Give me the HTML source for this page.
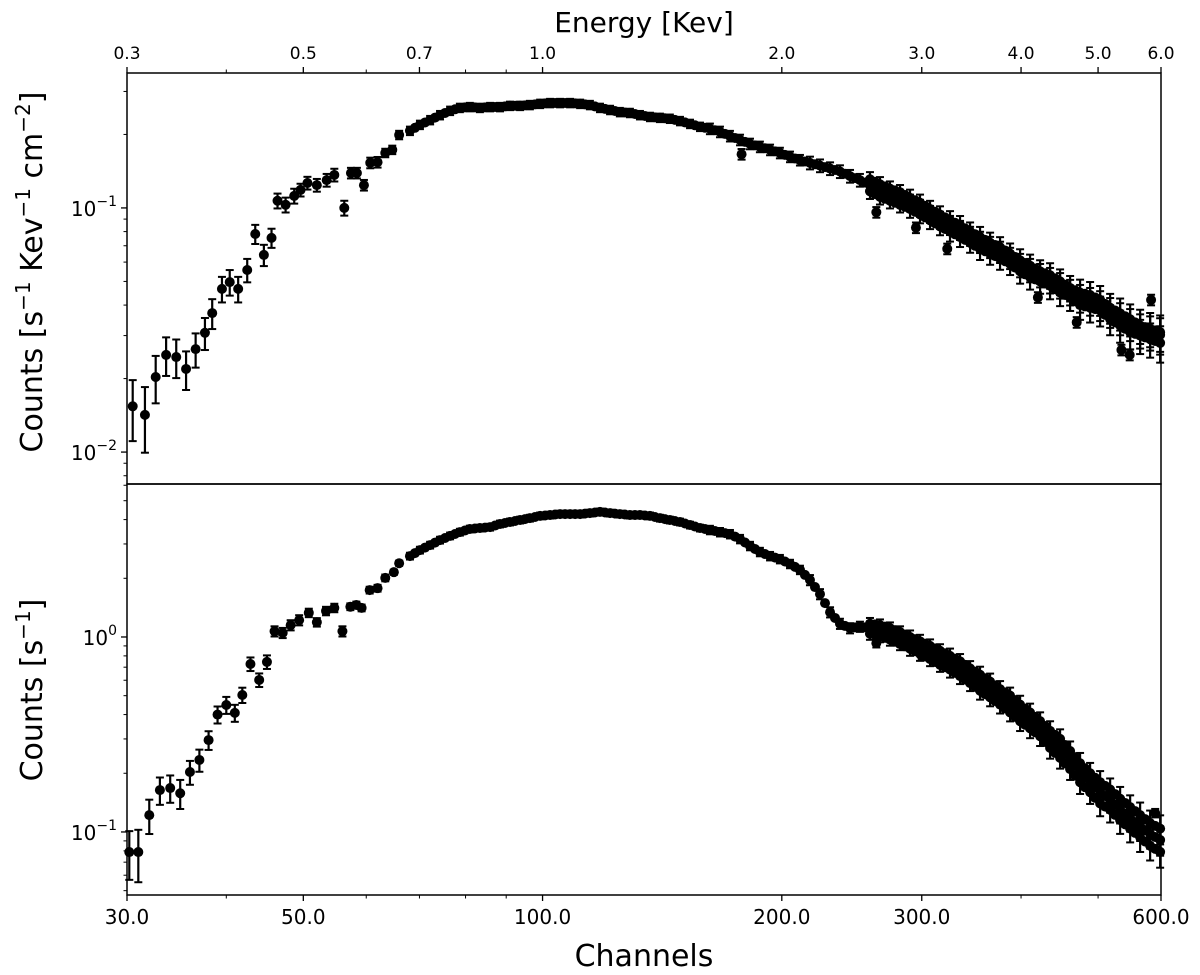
<!DOCTYPE html>
<html><head><meta charset="utf-8"><style>
body{margin:0;background:#fff;}
svg{display:block;font-family:"DejaVu Sans","Liberation Sans",sans-serif;}
</style></head><body>
<svg id="chart" width="1200" height="975" viewBox="0 0 1200 975" xmlns="http://www.w3.org/2000/svg"></svg>
<script>
// ---------- data ----------
const topSparseCh = [30.5,31.6,32.6,33.6,34.6,35.6,36.6,37.6,38.4,39.5,40.4,41.4,42.5,43.5,44.6,45.6,46.4,47.5,48.7,49.6,50.6,52.0,53.5,54.7,56.3,57.4,58.4,59.6,60.7,62.0,63.4,64.7,66.0];
const topSparseVal = [0.0154,0.0142,0.0203,0.025,0.0245,0.0219,0.0264,0.0308,0.0371,0.0466,0.0497,0.0466,0.0557,0.0782,0.0642,0.0754,0.107,0.103,0.112,0.1185,0.1265,0.124,0.130,0.1365,0.100,0.139,0.139,0.124,0.153,0.154,0.168,0.173,0.199];
const topSparseErr = [0.28,0.3,0.22,0.18,0.18,0.18,0.16,0.15,0.14,0.12,0.12,0.12,0.11,0.09,0.1,0.09,0.07,0.07,0.07,0.06,0.06,0.06,0.06,0.06,0.07,0.05,0.05,0.05,0.05,0.05,0.04,0.04,0.04];
const denseCh = [68.1,70.1,72.2,74.3,76.5,78.7,81.0,83.4,85.9,88.4,91.0,93.7,96.4,99.3,102.2,105.2,108.3,111.5,114.7,118.1,121.6,125.1,128.8,132.6,136.5,140.5,144.6,148.9,153.3,157.8,162.4,167.2,172.1,177.2,182.4,187.7,193.3,198.9,204.8,210.8,217.0,223.4,230.0,236.7,243.7,250.8,258.2,265.8,273.6,281.7,290.0,298.5,307.3,316.3,325.6,335.2,345.1,355.2,365.7,376.4,387.5,398.9,410.6,422.7,435.1,447.9,461.1,474.6,488.6,503.0,517.8,533.0,548.7,564.8,581.4,598.5];
const topDenseVal = [0.207,0.219,0.229,0.240,0.250,0.257,0.259,0.257,0.259,0.259,0.262,0.262,0.264,0.267,0.269,0.269,0.269,0.267,0.264,0.257,0.252,0.247,0.245,0.240,0.236,0.234,0.232,0.227,0.221,0.215,0.211,0.205,0.197,0.190,0.183,0.178,0.173,0.168,0.162,0.157,0.153,0.149,0.145,0.141,0.135,0.130,0.124,0.1185,0.114,0.110,0.105,0.100,0.0944,0.0893,0.0851,0.0812,0.0768,0.0726,0.0692,0.0661,0.0624,0.0584,0.0557,0.0531,0.0507,0.0483,0.0453,0.0428,0.0416,0.040,0.0375,0.0354,0.0335,0.0316,0.0310,0.0302];
const denseErr = [0.04,0.04,0.04,0.04,0.04,0.04,0.04,0.04,0.04,0.04,0.04,0.04,0.04,0.04,0.04,0.04,0.04,0.04,0.04,0.04,0.04,0.04,0.04,0.04,0.04,0.04,0.04,0.04,0.04,0.04,0.05,0.05,0.05,0.05,0.05,0.05,0.05,0.05,0.05,0.05,0.06,0.06,0.06,0.06,0.06,0.06,0.07,0.07,0.07,0.07,0.08,0.08,0.08,0.08,0.09,0.09,0.09,0.1,0.1,0.1,0.1,0.11,0.11,0.11,0.12,0.12,0.12,0.13,0.13,0.14,0.14,0.15,0.15,0.16,0.16,0.17];
// band spread (channels 258..598 = denseCh from index 46)
const topBandLow = [0.117,0.111,0.107,0.103,0.099,0.094,0.089,0.084,0.080,0.076,0.072,0.068,0.065,0.062,0.059,0.055,0.052,0.050,0.048,0.045,0.043,0.040,0.039,0.038,0.035,0.033,0.031,0.030,0.029,0.028];
const topBandHigh = [0.131,0.125,0.120,0.116,0.110,0.105,0.099,0.094,0.089,0.085,0.080,0.076,0.072,0.069,0.065,0.061,0.058,0.055,0.053,0.050,0.047,0.045,0.044,0.042,0.039,0.037,0.035,0.033,0.032,0.031];
const topScatterCh = [178,263,295,323,535,548,583,470,420];
const topScatterVal = [0.166,0.096,0.083,0.068,0.0262,0.025,0.042,0.034,0.043];
const botSparseCh = [30.2,31.0,32.0,33.0,34.0,35.0,36.0,37.0,38.0,39.0,40.0,41.0,41.9,42.9,44.0,45.0,46.0,47.1,48.2,49.4,50.8,52.0,53.4,54.7,56.0,57.3,58.3,59.2,60.6,62.0,63.4,65.0,66.0];
const botSparseVal = [0.0789,0.0789,0.122,0.164,0.168,0.158,0.203,0.234,0.296,0.40,0.448,0.408,0.504,0.727,0.602,0.745,1.07,1.05,1.15,1.22,1.33,1.19,1.36,1.41,1.07,1.43,1.46,1.41,1.74,1.78,2.01,2.15,2.39];
const botSparseErr = [0.28,0.3,0.2,0.16,0.16,0.17,0.14,0.13,0.11,0.1,0.1,0.1,0.09,0.08,0.08,0.08,0.06,0.06,0.06,0.06,0.05,0.05,0.05,0.05,0.06,0.04,0.04,0.04,0.04,0.04,0.04,0.03,0.03];
const botDenseVal = [2.60,2.79,2.96,3.14,3.30,3.45,3.58,3.62,3.66,3.80,3.89,3.98,4.07,4.18,4.22,4.27,4.27,4.27,4.32,4.38,4.32,4.27,4.22,4.22,4.18,4.07,3.98,3.89,3.75,3.62,3.54,3.45,3.37,3.18,2.93,2.73,2.60,2.51,2.37,2.21,1.96,1.66,1.34,1.17,1.11,1.13,1.11,1.09,1.05,1.00,0.943,0.889,0.838,0.789,0.745,0.694,0.638,0.588,0.541,0.498,0.459,0.412,0.375,0.341,0.303,0.270,0.234,0.203,0.180,0.160,0.146,0.130,0.118,0.107,0.0977,0.0910];
const botBandLow = [1.04,1.01,0.97,0.92,0.87,0.82,0.77,0.72,0.68,0.63,0.58,0.53,0.49,0.45,0.41,0.37,0.34,0.31,0.27,0.24,0.21,0.18,0.16,0.14,0.13,0.115,0.104,0.094,0.085,0.079];
const botBandHigh = [1.17,1.15,1.11,1.06,1.00,0.95,0.90,0.85,0.80,0.75,0.69,0.64,0.59,0.54,0.50,0.45,0.41,0.37,0.33,0.30,0.26,0.225,0.20,0.18,0.165,0.148,0.134,0.122,0.111,0.104];
const botScatterCh = [263,300,540,555,590];
const botScatterVal = [0.93,0.80,0.115,0.105,0.125];
const energyTicks = [0.3,0.5,0.7,1.0,2.0,3.0,4.0,5.0,6.0];
const energyMinor = [0.4,0.6,0.8,0.9];
const channelTicks = [30,50,100,200,300,600];
const channelMinor = [40,60,70,80,90,400,500];

// ---------- axes ----------
const X0=127, X1=1161, XMIN=30, XMAX=600;
const T0=73, T1=484, TMAX=0.357, TMIN=0.0074;
const B0=484, B1=895, BMAX=6.09, BMIN=0.0475;
const L=Math.log10;
const xs = c => X0 + (L(c)-L(XMIN))/(L(XMAX)-L(XMIN))*(X1-X0);
const ysT = v => T0 + (L(TMAX)-L(v))/(L(TMAX)-L(TMIN))*(T1-T0);
const ysB = v => B0 + (L(BMAX)-L(v))/(L(BMAX)-L(BMIN))*(B1-B0);

const svg=document.getElementById('chart');
const NS='http://www.w3.org/2000/svg';
function mk(tag, attrs, parent){const e=document.createElementNS(NS,tag);for(const k in attrs)e.setAttribute(k,attrs[k]);(parent||svg).appendChild(e);return e;}
function txt(s, attrs, parent){const e=mk('text',attrs,parent);e.textContent=s;return e;}

function points(chs, vals, errs, ys, name, g){
  for(let i=0;i<Math.min(chs.length,vals.length);i++){
    const x=xs(chs[i]), y=ys(vals[i]);
    const er = errs ? errs[i] : 0.05;
    const ya=ys(vals[i]*(1+er)), yb=ys(vals[i]*(1-er));
    const p=mk('g',{},g);
    
    
    mk('line',{x1:x,x2:x,y1:ya,y2:yb,stroke:'#000','stroke-width':2.2},p);
    mk('line',{x1:x-4,x2:x+4,y1:ya,y2:ya,stroke:'#000','stroke-width':2},p);
    mk('line',{x1:x-4,x2:x+4,y1:yb,y2:yb,stroke:'#000','stroke-width':2},p);
    mk('circle',{cx:x,cy:y,r:5,fill:'#000'},p);
  }
}
function densify(chs, vals, ys, name, g){
  for(let i=0;i<Math.min(chs.length,vals.length)-1;i++){
    const c=Math.sqrt(chs[i]*chs[i+1]), v=Math.sqrt(vals[i]*vals[i+1]);
    const p=mk('circle',{cx:xs(c),cy:ys(v),r:5,fill:'#000'},g);
    
    
  }
}
const bandCh = denseCh.slice(46);

const gT=mk('g',{});  
points(topSparseCh, topSparseVal, topSparseErr, ysT, 'top-point', gT);
points(denseCh, topDenseVal, denseErr, ysT, 'top-point', gT);
densify(denseCh, topDenseVal, ysT, 'top-point', gT);
points(bandCh, topBandLow, denseErr.slice(46), ysT, 'top-point', gT);
densify(bandCh, topBandLow, ysT, 'top-point', gT);
points(bandCh, topBandHigh, denseErr.slice(46), ysT, 'top-point', gT);
densify(bandCh, topBandHigh, ysT, 'top-point', gT);
points(topScatterCh, topScatterVal, null, ysT, 'top-point', gT);
const gB=mk('g',{});  
points(botSparseCh, botSparseVal, botSparseErr, ysB, 'bottom-point', gB);
points(denseCh, botDenseVal, denseErr, ysB, 'bottom-point', gB);
densify(denseCh, botDenseVal, ysB, 'bottom-point', gB);
points(bandCh, botBandLow, denseErr.slice(46), ysB, 'bottom-point', gB);
densify(bandCh, botBandLow, ysB, 'bottom-point', gB);
points(bandCh, botBandHigh, denseErr.slice(46), ysB, 'bottom-point', gB);
densify(bandCh, botBandHigh, ysB, 'bottom-point', gB);
points(botScatterCh, botScatterVal, null, ysB, 'bottom-point', gB);

// frames
const fT=mk('rect',{x:X0,y:T0,width:X1-X0,height:T1-T0,fill:'none',stroke:'#000','stroke-width':1.5});
 
const fB=mk('rect',{x:X0,y:B0,width:X1-X0,height:B1-B0,fill:'none',stroke:'#000','stroke-width':1.5});
 

// top energy axis
const gE=mk('g',{});  
energyTicks.forEach(e=>{const x=xs(e*100);mk('line',{x1:x,x2:x,y1:T0,y2:T0-6,stroke:'#000','stroke-width':1.3},gE);
  const t=txt(e.toFixed(1),{x:x,y:T0-14,'font-size':17,'text-anchor':'middle'},gE);
   });
energyMinor.forEach(e=>{const x=xs(e*100);mk('line',{x1:x,x2:x,y1:T0,y2:T0-3.5,stroke:'#000','stroke-width':1},gE);});
const et=txt('Energy [Kev]',{x:644,y:32,'font-size':28,'text-anchor':'middle'});
 

// bottom channel axis
const gC=mk('g',{});  
channelTicks.forEach(c=>{const x=xs(c);mk('line',{x1:x,x2:x,y1:B1,y2:B1+6,stroke:'#000','stroke-width':1.3},gC);
  const t=txt(c.toFixed(1),{x:x,y:B1+29,'font-size':20,'text-anchor':'middle'},gC);
   });
channelMinor.forEach(c=>{const x=xs(c);mk('line',{x1:x,x2:x,y1:B1,y2:B1+3.5,stroke:'#000','stroke-width':1},gC);});
const ct=txt('Channels',{x:644,y:966,'font-size':30,'text-anchor':'middle'});
 

// y axes
function yaxis(ys, lo, hi, majors, y0, y1, name){
  const g=mk('g',{});  
  for(let d=-3; d<=1; d++){
    for(let m=1;m<10;m++){
      const v=m*Math.pow(10,d); if(v<lo||v>hi) continue;
      const y=ys(v); if(y<y0-0.5||y>y1+0.5) continue;
      const maj=(m===1);
      mk('line',{x1:X0,x2:X0-(maj?6:3.5),y1:y,y2:y,stroke:'#000','stroke-width':maj?1.3:1},g);
      if(maj && majors.includes(d)){
        const t=mk('text',{x:X0-10,y:y+8,'font-size':20,'text-anchor':'end'},g);
         
        t.textContent='10';
        const s=mk('tspan',{dy:-10,'font-size':14},t); s.textContent=(d<0?'\u2212':'')+Math.abs(d);
      }
    }
  }
}
yaxis(ysT, TMIN, TMAX, [-1,-2], T0, T1, 'top-y-axis');
yaxis(ysB, BMIN, BMAX, [0,-1], B0, B1, 'bottom-y-axis');

const yt=mk('text',{transform:'translate(42,272) rotate(-90)','font-size':30,'text-anchor':'middle'});
 
yt.innerHTML='Counts [s<tspan dy="-12" font-size="20">\u22121</tspan><tspan dy="12"> Kev</tspan><tspan dy="-12" font-size="20">\u22121</tspan><tspan dy="12"> cm</tspan><tspan dy="-12" font-size="20">\u22122</tspan><tspan dy="12">]</tspan>';
const yb=mk('text',{transform:'translate(42,690) rotate(-90)','font-size':30,'text-anchor':'middle'});
 
yb.innerHTML='Counts [s<tspan dy="-12" font-size="20">\u22121</tspan><tspan dy="12">]</tspan>';
</script>
</body></html>
